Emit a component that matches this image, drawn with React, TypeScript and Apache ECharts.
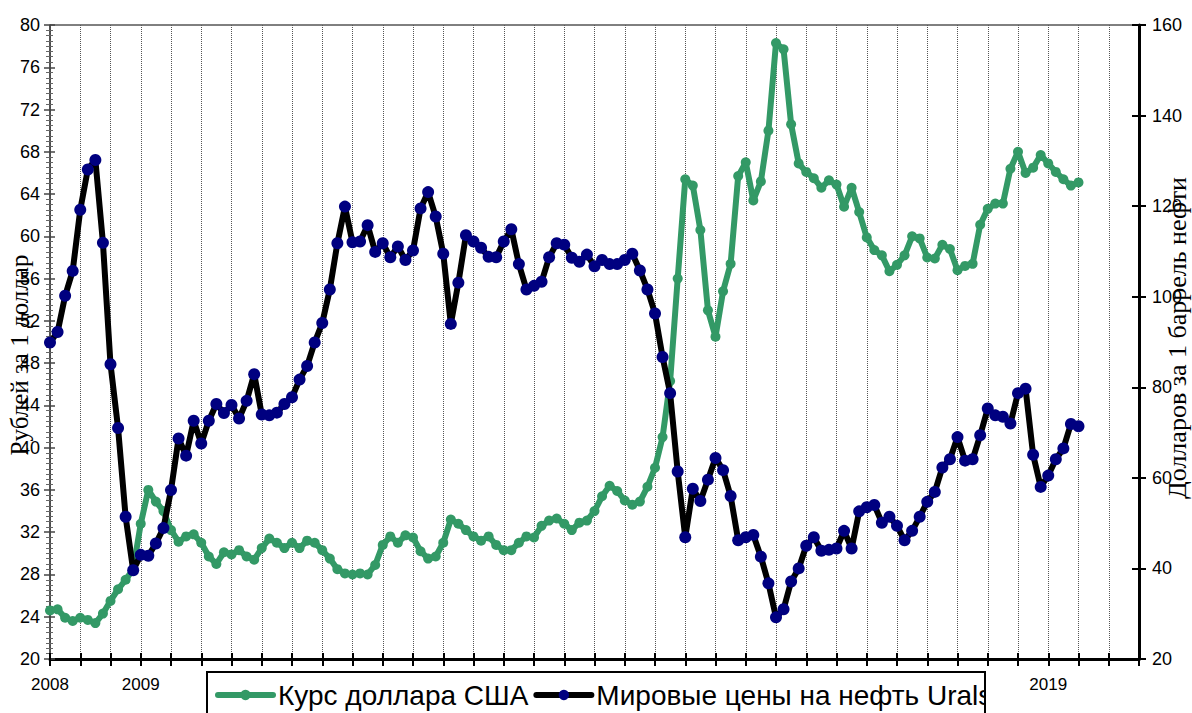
import React, { useEffect, useRef } from "react";
import * as echarts from "echarts";

// Monthly categories Jan 2008 .. Jan 2020
const startYear = 2008;
const endYear = 2020;
const months: string[] = [];
for (let y = startYear; y <= endYear; y++) {
  for (let m = 1; m <= 12; m++) {
    if (y === endYear && m > 1) break;
    months.push(`${y}-${m < 10 ? "0" + m : m}`);
  }
}
// Year labels visible on the axis (others are hidden behind the legend)
const shownYears = ["2008", "2009", "2019"];

const seriesNames = ["Курс доллара США", "Мировые цены на нефть Urals"];
const leftAxisName = "Рублей за 1 доллар";
const rightAxisName = "Долларов за 1 баррель нефти";

// Рублей за 1 доллар (left axis)
const usdRub: number[] = [
  24.6, 24.7, 23.9, 23.6, 23.9, 23.7, 23.4, 24.3, 25.5, 26.6, 27.5, 28.5,
  32.8, 36.0, 34.9, 34.0, 32.2, 31.1, 31.6, 31.8, 31.0, 29.7, 29.0, 30.1,
  29.9, 30.3, 29.7, 29.4, 30.5, 31.4, 31.0, 30.5, 31.0, 30.5, 31.2, 31.0,
  30.3, 29.5, 28.5, 28.1, 28.0, 28.1, 28.0, 28.9, 30.8, 31.6, 31.0, 31.7,
  31.5, 30.2, 29.5, 29.7, 31.0, 33.2, 32.8, 32.2, 31.6, 31.2, 31.6, 30.8,
  30.3, 30.3, 31.0, 31.6, 31.5, 32.6, 33.1, 33.3, 32.8, 32.2, 32.9, 33.1,
  34.0, 35.4, 36.4, 35.9, 35.0, 34.6, 34.9, 36.3, 38.1, 41.0, 46.3, 56.0,
  65.4, 64.8, 60.6, 53.0, 50.5, 54.8, 57.4, 65.7, 67.0, 63.4, 65.2, 70.0,
  78.3, 77.7, 70.6, 66.9, 66.1, 65.5, 64.6, 65.3, 64.9, 62.8, 64.6, 62.3,
  59.9, 58.7, 58.2, 56.7, 57.3, 58.2, 60.0, 59.8, 58.0, 57.9, 59.2, 58.8,
  56.8, 57.2, 57.4, 61.1, 62.6, 63.1, 63.1, 66.4, 68.0, 66.0, 66.5, 67.7,
  66.9, 66.1, 65.4, 64.8, 65.1,
];

// Долларов за 1 баррель нефти Urals (right axis)
const urals: number[] = [
  89.9, 92.2, 100.2, 105.7, 119.2, 128.1, 130.2, 111.9, 85.1, 71.0, 51.4, 39.6,
  43.0, 42.8, 45.5, 48.9, 57.3, 68.7, 64.9, 72.6, 67.6, 72.6, 76.3, 74.3,
  76.1, 73.1, 77.0, 82.9, 74.0, 73.8, 74.4, 76.3, 77.8, 81.7, 84.7, 89.9,
  94.2, 101.6, 111.8, 119.9, 112.0, 112.2, 115.8, 109.9, 111.8, 108.7, 111.1, 108.1,
  110.2, 119.5, 123.1, 117.7, 109.5, 94.0, 103.1, 113.6, 112.2, 110.8, 108.8, 108.7,
  112.2, 114.9, 107.2, 101.6, 102.4, 103.3, 108.7, 111.8, 111.5, 108.6, 107.7, 109.3,
  106.7, 108.1, 107.2, 107.2, 108.1, 109.5, 105.8, 101.6, 96.3, 86.7, 78.7, 61.4,
  46.9, 57.6, 54.9, 59.6, 64.4, 61.7, 56.0, 46.2, 46.9, 47.4, 42.6, 36.7,
  29.2, 31.0, 37.1, 40.0, 45.0, 46.9, 43.9, 44.1, 44.4, 48.3, 44.4, 52.6,
  53.5, 54.0, 50.1, 51.4, 49.4, 46.2, 48.3, 51.4, 54.7, 56.9, 62.3, 64.1,
  69.0, 63.8, 64.1, 69.4, 75.3, 73.8, 73.5, 72.0, 78.7, 79.7, 65.1, 58.0,
  60.5, 64.1, 66.5, 71.9, 71.4,
];

const leftMin = 20, leftMax = 80, leftStep = 4;
const rightMin = 20, rightMax = 160, rightStep = 20;

const sans = '"Liberation Sans", Arial, sans-serif';
const serif = '"Liberation Serif", "Times New Roman", serif';

export default function App() {
  const ref = useRef<HTMLDivElement>(null);
  useEffect(() => {
    if (!ref.current) return;
    const chart = echarts.init(ref.current, undefined, { renderer: "svg" });
    const tickEvery4 = (i: number) => i % 4 === 0;
    const tickStyle = { color: "#000", width: 2 };
    chart.setOption({
      animation: false,
      backgroundColor: "#fff",
      textStyle: { fontFamily: sans },
      grid: {
        left: 50, right: 53, top: 25, bottom: 54,
        show: true, borderColor: "#000", borderWidth: 1, backgroundColor: "transparent",
      },
      legend: {
        left: 207, top: 672, orient: "horizontal",
        itemWidth: 55, itemHeight: 13, itemGap: 5,
        padding: [9, 8, 9, 8],
        borderColor: "#000", borderWidth: 2, backgroundColor: "#fff",
        textStyle: { fontSize: 28, color: "#000", fontFamily: sans },
        lineStyle: { width: 6 },
        z: 10,
      },
      xAxis: [
        {
          type: "category", data: months, boundaryGap: false, position: "bottom",
          axisLine: { lineStyle: { color: "#000", width: 3 } },
          axisTick: { show: true, interval: tickEvery4, length: 7, lineStyle: tickStyle },
          axisLabel: {
            interval: (i: number, v: string) => i % 12 === 0 && shownYears.includes(v.slice(0, 4)),
            formatter: (v: string) => v.slice(0, 4),
            fontSize: 17, color: "#000", margin: 17, fontFamily: sans,
          },
          splitLine: { show: true, interval: tickEvery4, lineStyle: { color: "#555", type: "dotted", width: 1 } },
        },
        {
          type: "category", data: months, boundaryGap: false, position: "bottom",
          axisLine: { show: false },
          axisTick: { show: true, inside: true, interval: tickEvery4, length: 6, lineStyle: tickStyle },
          axisLabel: { show: false }, splitLine: { show: false },
        },
      ],
      yAxis: [
        {
          type: "value", min: leftMin, max: leftMax, interval: leftStep, position: "left",
          axisLine: { show: true, lineStyle: { color: "#444", width: 1.5 } },
          axisTick: { show: true, length: 6, lineStyle: { color: "#444", width: 1.5 } },
          minorTick: { show: true, splitNumber: 8, length: 4, lineStyle: { color: "#666", width: 1 } },
          axisLabel: { fontSize: 18, color: "#000", margin: 10, fontFamily: sans },
          splitLine: { show: false },
        },
        {
          type: "value", min: rightMin, max: rightMax, interval: rightStep, position: "right",
          axisLine: { show: true, lineStyle: { color: "#000", width: 3 } },
          axisTick: { show: true, length: 7, lineStyle: tickStyle },
          axisLabel: { fontSize: 18, color: "#000", margin: 13, fontFamily: sans },
          splitLine: { show: false },
        },
        {
          type: "value", min: leftMin, max: leftMax, interval: leftStep, position: "left",
          axisLine: { show: false },
          axisTick: { show: true, inside: true, length: 5, lineStyle: { color: "#444", width: 1.5 } },
          minorTick: { show: true, splitNumber: 8, length: 3, lineStyle: { color: "#666", width: 1 } },
          axisLabel: { show: false }, splitLine: { show: false },
        },
        {
          type: "value", min: rightMin, max: rightMax, interval: rightStep, position: "right",
          axisLine: { show: false },
          axisTick: { show: true, inside: true, length: 7, lineStyle: tickStyle },
          axisLabel: { show: false }, splitLine: { show: false },
        },
      ],
      graphic: [
        {
          type: "text", x: 19, y: 355, rotation: Math.PI / 2, z: 20,
          style: { text: leftAxisName, font: `25px ${serif}`, fill: "#000", align: "center", verticalAlign: "middle" },
        },
        {
          type: "text", x: 1177, y: 338, rotation: Math.PI / 2, z: 20,
          style: { text: rightAxisName, font: `26px ${serif}`, fill: "#000", align: "center", verticalAlign: "middle" },
        },
        // legend box is narrower than its content in the reference: clip its right end
        {
          type: "rect", z: 30,
          shape: { x: 986, y: 668, width: 24, height: 45 },
          style: { fill: "#fff" },
        },
        {
          type: "line", z: 31,
          shape: { x1: 985, y1: 672, x2: 985, y2: 713 },
          style: { stroke: "#000", lineWidth: 2 },
        },
      ],
      series: [
        {
          name: seriesNames[0], type: "line", yAxisIndex: 0, xAxisIndex: 0, data: usdRub,
          symbol: "circle", symbolSize: 10, showSymbol: true, showAllSymbol: true,
          lineStyle: { color: "#339966", width: 6, join: "round", cap: "round" },
          itemStyle: { color: "#339966" }, z: 2,
        },
        {
          name: seriesNames[1], type: "line", yAxisIndex: 1, xAxisIndex: 0, data: urals,
          symbol: "circle", symbolSize: 12, showSymbol: true, showAllSymbol: true,
          lineStyle: { color: "#000", width: 6, join: "round", cap: "round" },
          itemStyle: { color: "#000080" }, z: 3,
        },
      ],
    });
    return () => chart.dispose();
  }, []);
  return (
    <div
      ref={ref}
      style={{ position: "absolute", left: 0, top: 0, width: 1192, height: 713 }}
    />
  );
}
